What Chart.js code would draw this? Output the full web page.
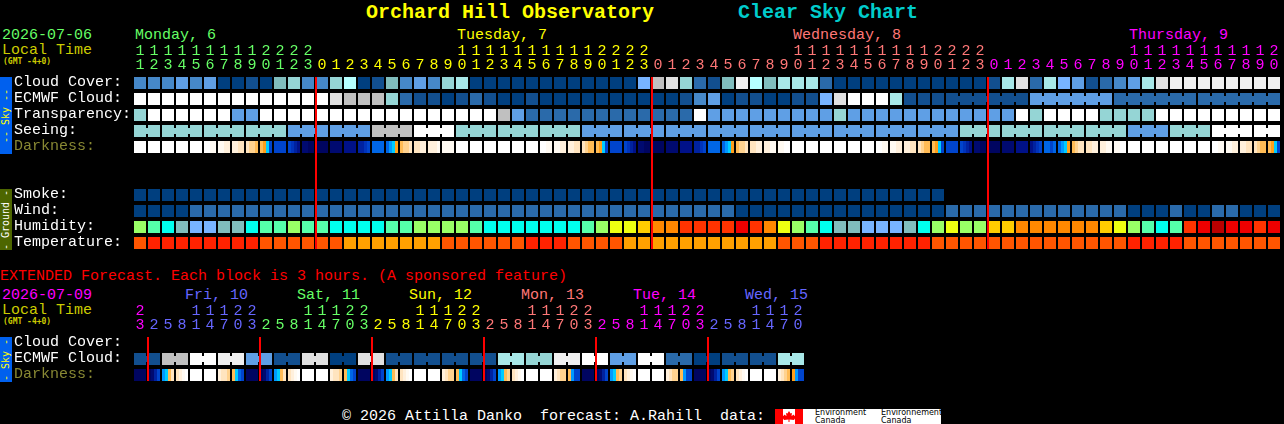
<!DOCTYPE html>
<html>
<head>
<meta charset="utf-8">
<title>Orchard Hill Observatory Clear Sky Chart</title>
<script src="https://cdn.jsdelivr.net/npm/chart.js@4"></script>
<style>
    html, body { margin: 0; padding: 0; background: #000; width: 1284px; height: 424px; overflow: hidden; }
    canvas { position: absolute; left: 0; }
    #chartMain { top: 0; }
    #chartExt { top: 284px; }
    .t { position: absolute; font: 15px/16px "Liberation Mono", monospace; white-space: pre; color: #fff; }
    .side { position: absolute; left: 0; width: 12px; }
    .side span { position: absolute; left: 6px; top: 50%; transform: translate(-50%, -50%) rotate(-90deg);
        font: 10px/10px "DejaVu Sans Mono", monospace; white-space: pre; }
</style>
</head>
<body>
<div class="t" style="left:366px;top:1px;font-weight:bold;font-size:20px;line-height:24px;color:#ffff00">Orchard Hill Observatory</div>
<div class="t" style="left:738px;top:1px;font-weight:bold;font-size:20px;line-height:24px;color:#00cccc">Clear Sky Chart</div>

<div class="t" style="left:2px;top:28px;color:#66ff66">2026-07-06</div>
<div class="t" style="left:2px;top:43px;color:#cccc00">Local Time</div>
<div class="t" style="left:3px;top:57px;font:bold 8px/10px 'DejaVu Sans Mono',monospace;color:#cccc00">(GMT -4+0)</div>
<div class="t" style="left:135px;top:28px;color:#66ff66">Monday, 6</div>
<div class="t" style="left:457px;top:28px;color:#ffff00">Tuesday, 7</div>
<div class="t" style="left:793px;top:28px;color:#ff7777">Wednesday, 8</div>
<div class="t" style="left:1129px;top:28px;color:#ff00ff">Thursday, 9</div>

<div class="side" style="top:77px;height:77px;background:#0060ee"><span style="color:#ffff00">-- Sky --</span></div>
<div class="side" style="top:189px;height:61px;background:#4d6600"><span style="color:#ffffff">- Ground -</span></div>
<div class="side" style="top:337px;height:45px;background:#0060ee"><span style="color:#ffff00">- Sky -</span></div>

<div class="t" style="left:0;top:269px;color:#ff0000">EXTENDED Forecast. Each block is 3 hours. (A sponsored feature)</div>
<div class="t" style="left:2px;top:288px;color:#ff00ff">2026-07-09</div>
<div class="t" style="left:2px;top:303px;color:#cccc00">Local Time</div>
<div class="t" style="left:3px;top:317px;font:bold 8px/10px 'DejaVu Sans Mono',monospace;color:#cccc00">(GMT -4+0)</div>
<div class="t" style="left:185px;top:288px;color:#6666ff">Fri, 10</div>
<div class="t" style="left:297px;top:288px;color:#66ff66">Sat, 11</div>
<div class="t" style="left:409px;top:288px;color:#ffff00">Sun, 12</div>
<div class="t" style="left:521px;top:288px;color:#ff7777">Mon, 13</div>
<div class="t" style="left:633px;top:288px;color:#ff00ff">Tue, 14</div>
<div class="t" style="left:745px;top:288px;color:#6666ff">Wed, 15</div>

<canvas id="chartMain" width="1284" height="260"></canvas>
<canvas id="chartExt" width="1284" height="108"></canvas>

<div class="t" style="left:342px;top:409px">© 2026 Attilla Danko  forecast: A.Rahill  data:</div>
<div style="position:absolute;left:775px;top:409px;width:166px;height:15px;background:#fff">
    <svg width="28" height="15" style="position:absolute;left:0;top:0">
        <rect x="0" y="0" width="8" height="15" fill="#ff0000"/>
        <rect x="20" y="0" width="8" height="15" fill="#ff0000"/>
        <polygon fill="#ff0000" points="14,2 15.5,4.5 17,4 16.5,7 19,5.5 19.5,7 21,7 20,9.5 19,11 14.5,10.5 14.5,13 13.5,13 13.5,10.5 9,11 8,9.5 7,7 8.5,7 9,5.5 11.5,7 11,4 12.5,4.5"/>
    </svg>
    <div class="t" style="left:40px;top:0;font:8px/8px 'DejaVu Sans',sans-serif;color:#000">Environment<br>Canada</div>
    <div class="t" style="left:106px;top:0;font:8px/8px 'DejaVu Sans',sans-serif;color:#000">Environnement<br>Canada</div>
</div>

<script>
document.addEventListener('DOMContentLoaded', () => {
    // hours along the top of each block
    const hours = [
        11,12,13,14,15,16,17,18,19,20,21,22,23,
        0,1,2,3,4,5,6,7,8,9,10,11,12,13,14,15,16,17,18,19,20,21,22,23,
        0,1,2,3,4,5,6,7,8,9,10,11,12,13,14,15,16,17,18,19,20,21,22,23,
        0,1,2,3,4,5,6,7,8,9,10,11,12,13,14,15,16,17,18,19,20
    ];
    const extHours = [
        23,
        2,5,8,11,14,17,20,23,
        2,5,8,11,14,17,20,23,
        2,5,8,11,14,17,20,23,
        2,5,8,11,14,17,20,23,
        2,5,8,11,14,17,20,23,
        2,5,8,11,14,17,20
    ];
    const dayStarts = [0, 13, 37, 61];
    const dayColors = ['#66ff66', '#ffff00', '#ff7777', '#ff00ff'];
    const extDayStarts = [0, 1, 9, 17, 25, 33, 41];
    const extDayColors = ['#ff00ff', '#6666ff', '#66ff66', '#ffff00', '#ff7777', '#ff00ff', '#6666ff'];

    const rowNames = ['Cloud Cover:', 'ECMWF Cloud:', 'Transparency:', 'Seeing:', 'Darkness:', '', '', 'Smoke:', 'Wind:', 'Humidity:', 'Temperature:'];
    const extRowNames = ['Cloud Cover:', 'ECMWF Cloud:', 'Darkness:'];

    // sky shades, 0 is clear/dark blue and 13 is white
    const skyColors = ['#003f7f', '#124f8f', '#2a6aaa', '#4688c8', '#5f9fe5', '#78b4ff', '#80bdbd',
        '#95d5d5', '#a8e8e8', '#b5ffff', '#c0c0c0', '#e0e0e0', '#f0f0f0', '#ffffff'];
    const humidityColors = ['#78b4ff', '#80bdbd', '#00ffee', '#55ffaa', '#99ff66', '#eeff11', '#ffcc00',
        '#ff8800', '#ff3300', '#ee0000', '#bb0000'];
    const temperatureColors = ['#ff2200', '#ff5500', '#ffa000'];
    const darknessColors = ['#ffffff', '#fffaf2', '#fff0dc', '#ffe4bf', '#ffd28f', '#ffbb55', '#ff9f1a',
        '#00ccff', '#0099ff', '#0066e6', '#0044cc', '#0033bb', '#0022a0', '#001188', '#000a70', '#000560'];

    const cloudCover = [
        3,3,3,4,3,4,0,0,1,0,
        6,7,3,3,7,9,0,1,6,3,
        4,3,7,8,0,0,0,0,0,0,
        0,0,0,0,0,0,5,10,11,7,
        2,1,6,12,9,6,8,8,8,2,
        0,0,0,0,0,0,0,0,0,0,
        0,1,8,11,2,8,5,4,1,2,
        3,4,8,11,12,12,12,12,12,12,12,12
    ];
    const ecmwfCloud = [
        13,13,13,13,13,13,13,13,13,13,
        13,13,13,13,11,10,10,10,7,2,
        1,1,0,1,2,1,0,0,1,0,
        0,0,0,0,0,0,0,0,0,1,
        3,4,0,1,1,0,0,1,1,5,
        11,13,13,13,8,1,1,1,1,1,
        1,1,1,1,4,4,4,4,4,4,
        2,2,2,2,2,2,2,2,2,2,2,2
    ];
    const transparency = [
        7,13,13,13,13,13,13,4,4,13,
        13,13,13,13,13,13,13,13,13,13,
        13,13,13,13,13,13,10,4,2,2,
        2,2,2,2,2,2,2,2,2,2,
        13,4,4,4,4,4,4,4,4,4,
        7,4,4,4,4,4,4,4,4,4,
        4,4,4,13,7,13,13,13,13,7,
        7,7,7,13,13,13,13,13,13,13,13,13
    ];
    const seeing = [
        7,7,7,7,7,7,7,7,7,7,
        7,4,4,4,4,4,4,10,10,10,
        13,13,13,7,7,7,7,7,7,7,
        7,7,4,4,4,4,4,4,4,4,
        4,4,4,4,4,4,4,4,4,4,
        4,4,4,4,4,4,4,4,4,7,
        7,7,7,7,7,7,7,7,7,7,
        7,4,4,4,7,7,7,13,13,13,13,13
    ];
    const smoke = [
        0,0,0,0,0,0,0,0,0,0,0,0,0,0,0,0,0,0,0,0,
        0,0,0,0,0,0,0,0,0,0,0,0,0,0,0,0,0,0,0,0,
        0,0,0,0,0,0,0,0,0,0,0,0,0,0,0,0,0,0
    ];
    const wind = [
        0,0,0,0,2,2,2,2,2,2,
        2,2,2,2,2,2,2,2,2,2,
        2,2,2,2,2,2,2,2,2,2,
        2,2,2,2,2,2,2,2,2,2,
        2,2,2,0,0,0,0,0,0,0,
        0,0,0,0,0,0,0,0,2,2,
        2,2,2,2,2,2,2,2,2,2,
        2,0,0,0,2,0,0,2,2,0,0,0
    ];
    const humidity = [
        4,3,2,1,0,0,1,1,2,3,
        3,4,3,3,2,2,2,2,3,3,
        4,4,4,4,3,2,2,2,2,2,
        2,2,3,4,5,5,6,7,7,8,
        8,8,8,9,8,7,5,4,3,2,
        1,1,0,0,0,1,2,4,5,4,
        4,6,6,7,7,7,7,7,7,6,
        5,4,3,2,3,8,9,10,9,9,8,9
    ];
    const temperature = [
        1,0,0,0,0,0,0,0,0,1,
        1,1,1,1,1,2,2,2,2,2,
        2,2,1,1,1,1,1,1,0,0,
        0,1,1,1,1,2,2,2,2,2,
        2,2,2,2,2,2,1,1,1,0,
        0,0,0,0,0,0,0,1,1,1,
        1,1,1,1,1,1,1,1,1,1,
        1,0,0,0,0,1,1,1,1,1,1,1
    ];
    // four readings per hour
    const darkness = [
        [0,0,0,0],[0,0,0,0],[0,0,0,0],[0,0,0,0],[0,0,0,0],[0,0,1,1],[1,1,2,2],[2,2,3,3],[3,4,4,5],[5,6,7,10],
        [10,10,10,10],[10,11,12,13],[14,14,15,15],[15,15,15,15],[14,14,14,14],[13,13,13,13],[12,12,11,10],[9,9,9,9],[9,8,7,6],[5,4,4,3],
        [3,3,2,2],[2,2,2,1],[1,1,1,1],[0,0,0,0],[0,0,0,0],[0,0,0,0],[0,0,0,0],[0,0,0,0],[0,0,0,0],[0,0,1,1],
        [1,1,2,2],[2,2,3,3],[3,4,5,5],[5,6,7,10],[10,10,10,10],[10,11,12,13],[14,14,15,15],[15,15,15,15],[14,14,14,14],[13,13,13,13],
        [12,12,11,10],[9,9,9,9],[9,8,7,6],[5,4,4,3],[3,3,2,2],[2,2,1,1],[1,1,0,0],[0,0,0,0],[0,0,0,0],[0,0,0,0],
        [0,0,0,0],[0,0,0,0],[0,0,0,0],[0,0,1,1],[1,1,2,2],[2,2,3,3],[3,4,5,5],[5,6,7,10],[10,10,10,10],[10,11,12,13],
        [14,14,15,15],[15,15,15,15],[14,14,14,14],[13,13,13,13],[13,12,11,10],[9,9,10,9],[9,8,7,6],[5,4,3,3],[3,3,2,2],[2,2,1,1],
        [1,1,0,0],[0,0,0,0],[0,0,0,0],[0,0,0,0],[0,0,0,0],[0,0,0,0],[0,0,0,0],[0,0,1,1],[1,1,2,2],[2,2,3,3],
        [3,4,5,5],[5,6,7,10]
    ];

    // first and last block of the cells that are joined together
    const seeingJoins = [[0,1],[2,4],[5,7],[8,10],[11,13],[14,16],[17,19],[20,22],[23,25],[26,28],[29,31],
        [32,34],[35,37],[38,40],[41,43],[44,46],[47,49],[50,52],[53,55],[56,58],[59,61],[62,64],[65,67],
        [68,70],[71,73],[74,76],[77,79],[80,81]];
    const ecmwfJoins = [[58,63],[64,69],[70,75],[76,81]];
    const midnights = [13, 37, 61];

    // extended forecast
    const extEcmwfCloud = [
        1,1,10,10,13,13,12,12,4,4,1,1,11,11,0,0,11,11,1,1,1,1,1,1,
        1,1,8,8,7,7,12,12,13,13,4,4,13,13,2,2,0,0,1,1,1,1,8,8
    ];
    const extDarkness = [
        [15,15,15,15],[15,14,12,10],[8,7,5,3],[3,2,1,0],[0,0,0,0],[0,0,0,0],[2,3,3,4],[5,7,9,10],
        [15,15,15,15],[15,14,12,10],[8,7,5,3],[3,2,1,0],[0,0,0,0],[0,0,0,0],[2,3,3,4],[5,7,9,10],
        [15,15,15,15],[15,14,12,10],[8,7,5,3],[3,2,1,0],[0,0,0,0],[0,0,0,0],[2,3,4,4],[5,7,9,10],
        [15,15,15,15],[15,14,12,10],[8,7,5,4],[3,2,1,0],[0,0,0,0],[0,0,0,0],[2,3,4,4],[5,8,10,10],
        [15,15,15,15],[15,14,12,10],[8,7,5,4],[3,2,1,0],[0,0,0,0],[0,0,0,0],[2,3,4,4],[5,8,10,10],
        [15,15,15,15],[15,14,12,10],[8,7,5,4],[3,2,1,0],[0,0,0,0],[0,0,0,0],[2,3,4,5],[6,8,10,10]
    ];
    const extEcmwfJoins = [];
    for (let i = 0; i < extEcmwfCloud.length; i += 2) extEcmwfJoins.push([i, i + 1]);
    const extMidnights = [1, 9, 17, 25, 33, 41];

    const CELL = 14;       // pitch of a block in px
    const BLOCK = 12;      // drawn width of a block
    const HALF = 0.375;    // half a block height in row units
    const JOIN_HALF = 0.1875;

    function cellBars(values, row, colors) {
        return {
            xAxisID: 'x',
            order: 1,
            data: values.map(() => [row - HALF, row + HALF]),
            backgroundColor: values.map(v => colors[v]),
            maxBarThickness: BLOCK
        };
    }

    function joinBars(values, row, joins, colors) {
        const data = [];
        const bg = [];
        joins.forEach(([a, b]) => {
            for (let c = a; c < b; c++) {
                data.push({ x: c + (BLOCK + 1) / CELL, y: [row - JOIN_HALF, row + JOIN_HALF] });
                bg.push(colors[values[c]]);
            }
        });
        return { xAxisID: 'edge', order: 1, data, backgroundColor: bg, maxBarThickness: CELL - BLOCK };
    }

    function stripBars(values, row, colors) {
        const data = [];
        const bg = [];
        const strip = BLOCK / 4;
        values.forEach((cell, c) => {
            cell.forEach((v, k) => {
                data.push({ x: c + (k + 0.5) * strip / CELL, y: [row - HALF, row + HALF] });
                bg.push(colors[v]);
            });
        });
        return { xAxisID: 'edge', order: 1, data, backgroundColor: bg, maxBarThickness: strip };
    }

    // red midnight markers, lowest order so they sit on top of the blocks
    function redLines(cols, lastRow) {
        return {
            xAxisID: 'edge',
            order: 0,
            data: cols.map(c => ({ x: c, y: [-HALF, lastRow + HALF] })),
            backgroundColor: '#ff0000',
            maxBarThickness: 2
        };
    }

    function colorForCol(i, starts, colors) {
        let k = 0;
        starts.forEach((s, n) => { if (i >= s) k = n; });
        return colors[k];
    }

    function makeChart(id, cfg) {
        const rowCount = cfg.rows.length;
        return new Chart(document.getElementById(id), {
            type: 'bar',
            data: { labels: cfg.hours.map(String), datasets: cfg.datasets },
            options: {
                responsive: false,
                animation: false,
                devicePixelRatio: 1,
                layout: { padding: cfg.padding },
                datasets: {
                    bar: { grouped: false, categoryPercentage: 1, barPercentage: 30, borderWidth: 0, inflateAmount: 0 }
                },
                plugins: { legend: { display: false }, tooltip: { enabled: false }, title: { display: false } },
                scales: {
                    x: {
                        type: 'category',
                        position: 'top',
                        offset: true,
                        grid: { display: false, drawTicks: false },
                        border: { display: false },
                        afterFit: s => { s.height = cfg.axisHeight; },
                        ticks: {
                            autoSkip: false,
                            maxRotation: 0,
                            minRotation: 0,
                            padding: 3,
                            font: { family: 'Liberation Mono', size: 15, lineHeight: '14px' },
                            color: ctx => colorForCol(ctx.index, cfg.dayStarts, cfg.dayColors),
                            callback: (v, i) => {
                                const h = cfg.hours[i];
                                return [h >= 10 ? String(Math.floor(h / 10)) : '', String(h % 10)];
                            }
                        }
                    },
                    edge: {
                        type: 'linear',
                        display: false,
                        offset: false,
                        min: -1 / CELL,
                        max: cfg.hours.length - 1 / CELL
                    },
                    y: {
                        type: 'linear',
                        reverse: true,
                        min: -0.5,
                        max: rowCount - 0.5,
                        grid: { display: false, drawTicks: false },
                        border: { display: false },
                        afterFit: s => { s.width = 119; },
                        afterBuildTicks: s => { s.ticks = cfg.rows.map((n, i) => ({ value: i })); },
                        ticks: {
                            autoSkip: false,
                            crossAlign: 'far',
                            padding: 0,
                            labelOffset: -1,
                            font: { family: 'Liberation Mono', size: 15 },
                            color: ctx => (cfg.rows[ctx.index] === 'Darkness:' ? '#888833' : '#ffffff'),
                            callback: (v, i) => cfg.rows[i]
                        }
                    }
                }
            }
        });
    }

    makeChart('chartMain', {
        hours,
        rows: rowNames,
        dayStarts,
        dayColors,
        axisHeight: 45,
        padding: { left: 14, right: 3, top: 30, bottom: 9 },
        datasets: [
            redLines(midnights, 10),
            cellBars(cloudCover, 0, skyColors),
            cellBars(ecmwfCloud, 1, skyColors),
            joinBars(ecmwfCloud, 1, ecmwfJoins, skyColors),
            cellBars(transparency, 2, skyColors),
            cellBars(seeing, 3, skyColors),
            joinBars(seeing, 3, seeingJoins, skyColors),
            stripBars(darkness, 4, darknessColors),
            cellBars(smoke, 7, skyColors),
            cellBars(wind, 8, skyColors),
            cellBars(humidity, 9, humidityColors),
            cellBars(temperature, 10, temperatureColors)
        ]
    });

    makeChart('chartExt', {
        hours: extHours,
        rows: extRowNames,
        dayStarts: extDayStarts,
        dayColors: extDayColors,
        axisHeight: 45,
        padding: { left: 14, right: 479, top: 6, bottom: 9 },
        datasets: [
            redLines(extMidnights, 2),
            cellBars(extEcmwfCloud, 1, skyColors),
            joinBars(extEcmwfCloud, 1, extEcmwfJoins, skyColors),
            stripBars(extDarkness, 2, darknessColors)
        ]
    });
});
</script>
</body>
</html>
